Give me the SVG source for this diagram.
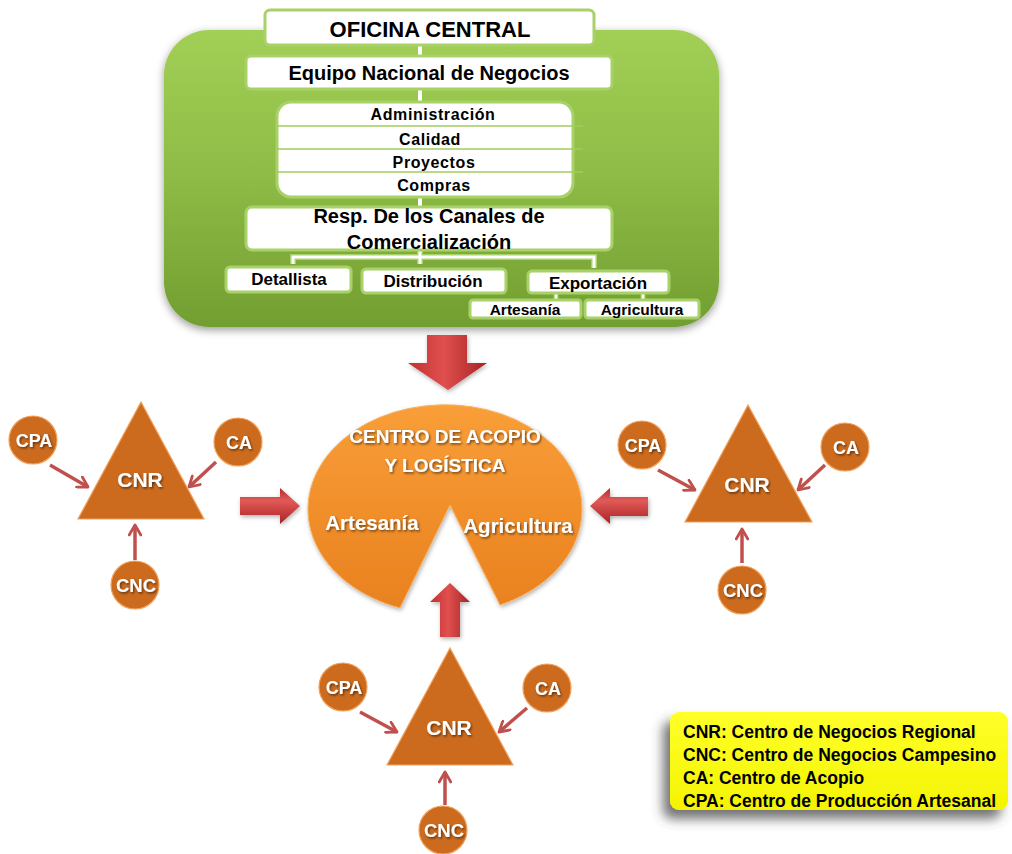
<svg xmlns="http://www.w3.org/2000/svg" width="1012" height="854" viewBox="0 0 1012 854">
<defs>
<linearGradient id="gGreen" x1="0" y1="0" x2="0" y2="1">
<stop offset="0" stop-color="#A2D056"/>
<stop offset="0.5" stop-color="#8DBB45"/>
<stop offset="1" stop-color="#729E31"/>
</linearGradient>
<linearGradient id="gOrange" x1="0" y1="0" x2="0" y2="1">
<stop offset="0" stop-color="#F99E38"/>
<stop offset="1" stop-color="#E9811F"/>
</linearGradient>
<linearGradient id="gRedV" x1="0" y1="0" x2="0" y2="1">
<stop offset="0" stop-color="#B8282B"/>
<stop offset="0.35" stop-color="#E25A58"/>
<stop offset="1" stop-color="#A82226"/>
</linearGradient>
<linearGradient id="gRedH" x1="0" y1="0" x2="1" y2="0">
<stop offset="0" stop-color="#C2302F"/>
<stop offset="0.45" stop-color="#E0504E"/>
<stop offset="1" stop-color="#A82226"/>
</linearGradient>
<linearGradient id="gYellow" x1="0" y1="0" x2="0" y2="1">
<stop offset="0" stop-color="#FFFF2A"/>
<stop offset="1" stop-color="#F4F400"/>
</linearGradient>
<filter id="shadow" x="-10%" y="-10%" width="120%" height="130%">
<feDropShadow dx="0" dy="3" stdDeviation="4" flood-color="#000" flood-opacity="0.4"/>
</filter>
<filter id="lshadow" x="-20%" y="-30%" width="140%" height="170%">
<feDropShadow dx="-7" dy="9" stdDeviation="6" flood-color="#444" flood-opacity="0.75"/>
</filter>
<filter id="ts" x="-10%" y="-20%" width="130%" height="150%">
<feDropShadow dx="1.2" dy="1.5" stdDeviation="0.8" flood-color="#000" flood-opacity="0.55"/>
</filter>
<filter id="soft" x="-20%" y="-20%" width="140%" height="140%">
<feDropShadow dx="1" dy="2" stdDeviation="2" flood-color="#000" flood-opacity="0.3"/>
</filter>
<marker id="ah" viewBox="0 0 12 12" refX="10" refY="6" markerWidth="14" markerHeight="14" markerUnits="userSpaceOnUse" orient="auto">
<path d="M1.5,1 L10,6 L1.5,11" fill="none" stroke="#C0504D" stroke-width="2.4" stroke-linecap="round" stroke-linejoin="round"/>
</marker>
</defs>
<style>
.box{fill:#fff;stroke:#A9D16A;stroke-width:3}
.t{font-family:"Liberation Sans",Arial,sans-serif;font-weight:bold;fill:#000;text-anchor:middle}
.w{font-family:"Liberation Sans",Arial,sans-serif;font-weight:bold;fill:#fff;text-anchor:middle}
.lg{font-family:"Liberation Sans",Arial,sans-serif;font-weight:bold;fill:#000;font-size:17.5px}
.div{stroke:#A0CC5E;stroke-width:1.5}
.cn{stroke:#fff;stroke-width:4;fill:none}
.org{fill:#CC6B1E;stroke:#F2A15C;stroke-width:1.2}
.sa{stroke:#C0504D;stroke-width:3.5;fill:none;marker-end:url(#ah)}
</style>

<g id="oficina-central">
<rect x="164" y="30" width="555" height="297" rx="45" fill="url(#gGreen)" filter="url(#shadow)"/>
</g>

<g id="connectors">
<line class="cn" x1="420" y1="45" x2="420" y2="56"/>
<line class="cn" x1="420" y1="89" x2="420" y2="102"/>
<line class="cn" x1="420" y1="197" x2="420" y2="207"/>
<path d="M293,264 V257 H594 V268 M420,250 V264" fill="none" stroke="#A9D16A" stroke-width="6"/>
<path d="M293,264 V257 H594 V268 M420,250 V264" fill="none" stroke="#fff" stroke-width="3"/>
<path d="M556,293 V301 M643,293 V301" fill="none" stroke="#A9D16A" stroke-width="5"/>
<path d="M556,293 V301 M643,293 V301" fill="none" stroke="#fff" stroke-width="2.5"/>
<line class="sa" x1="50" y1="465" x2="88" y2="487"/>
<line class="sa" x1="216" y1="462" x2="189" y2="487"/>
<line class="sa" x1="135" y1="560" x2="135" y2="525"/>
<line class="sa" x1="658" y1="470" x2="695" y2="490"/>
<line class="sa" x1="825" y1="465" x2="798" y2="490"/>
<line class="sa" x1="742" y1="563" x2="742" y2="529"/>
<line class="sa" x1="360" y1="712" x2="397" y2="732"/>
<line class="sa" x1="527" y1="708" x2="499" y2="732"/>
<line class="sa" x1="445" y1="805" x2="445" y2="772"/>
<path d="M427,335 H467 V363 H487 L448,390 L408,363 H427 Z" fill="url(#gRedH)" filter="url(#soft)"/>
<path d="M450,583 L470,602 H460 V637 H440 V602 H430 Z" fill="url(#gRedH)" filter="url(#soft)"/>
<path d="M240,497 H280 V488 L300,506 L280,524 V515 H240 Z" fill="url(#gRedV)" filter="url(#soft)"/>
<path d="M648,497 H610 V488 L590,506 L610,524 V516 H648 Z" fill="url(#gRedV)" filter="url(#soft)"/>
</g>

<g id="oficina">
<rect class="box" x="265" y="10" width="329" height="35" rx="5"/>
<text class="t" x="430" y="37" font-size="22">OFICINA CENTRAL</text>
</g>
<g id="equipo">
<rect class="box" x="246" y="56" width="366" height="33" rx="5"/>
<text class="t" x="429" y="80" font-size="20">Equipo Nacional de Negocios</text>
</g>
<g id="areas">
<rect class="box" x="277" y="102" width="296" height="95" rx="14" stroke="none"/>
<line class="div" x1="277" y1="126" x2="583" y2="126"/>
<line class="div" x1="277" y1="149" x2="583" y2="149"/>
<line class="div" x1="277" y1="172" x2="583" y2="172"/>
<text class="t" x="433" y="120" font-size="16" letter-spacing="0.6">Administración</text>
<text class="t" x="430" y="145" font-size="16" letter-spacing="0.6">Calidad</text>
<text class="t" x="434" y="168" font-size="16" letter-spacing="0.6">Proyectos</text>
<text class="t" x="434" y="191" font-size="16" letter-spacing="0.6">Compras</text>
</g>
<g id="resp">
<rect class="box" x="246" y="207" width="366" height="43" rx="6"/>
<text class="t" x="429" y="223" font-size="20">Resp. De los Canales de</text>
<text class="t" x="429" y="249" font-size="20">Comercialización</text>
</g>
<g id="detallista">
<rect class="box" x="226" y="267" width="125" height="25" rx="4"/>
<text class="t" x="289" y="285" font-size="17">Detallista</text>
</g>
<g id="distribucion">
<rect class="box" x="362" y="269" width="144" height="24" rx="4"/>
<text class="t" x="433" y="287" font-size="17">Distribución</text>
</g>
<g id="exportacion">
<rect class="box" x="528" y="271" width="141" height="22" rx="4"/>
<text class="t" x="598" y="289" font-size="17">Exportación</text>
</g>
<g id="exp-artesania">
<rect class="box" x="470" y="300" width="111" height="18" rx="3"/>
<text class="t" x="525" y="315" font-size="15.5">Artesanía</text>
</g>
<g id="exp-agricultura">
<rect class="box" x="585" y="300" width="114" height="18" rx="3"/>
<text class="t" x="642" y="315" font-size="15.5">Agricultura</text>
</g>

<g id="centro-acopio">
<path d="M400,608 L450,505 L500,605 A137 104.5 0 1 0 400,608 Z" fill="url(#gOrange)" stroke="#F7B060" stroke-width="1" filter="url(#soft)"/>
<g filter="url(#ts)">
<text class="w" x="445" y="443" font-size="19">CENTRO DE ACOPIO</text>
<text class="w" x="445" y="472" font-size="19">Y LOGÍSTICA</text>
<text class="w" x="372" y="530" font-size="20.5">Artesanía</text>
<text class="w" x="518" y="533" font-size="20.5">Agricultura</text>
</g>
</g>

<g id="cnr-left">
<polygon class="org" points="141,402 78,519 204,519"/>
<text class="w" x="140" y="487" font-size="21" filter="url(#ts)">CNR</text>
</g>
<g id="cpa-left"><circle class="org" cx="33" cy="440" r="24"/><text class="w" x="34" y="447" font-size="18" filter="url(#ts)">CPA</text></g>
<g id="ca-left"><circle class="org" cx="238" cy="442" r="24"/><text class="w" x="239" y="449" font-size="18" filter="url(#ts)">CA</text></g>
<g id="cnc-left"><circle class="org" cx="135" cy="585" r="24"/><text class="w" x="136" y="592" font-size="18.5" filter="url(#ts)">CNC</text></g>

<g id="cnr-right">
<polygon class="org" points="748,405 685,522 812,522"/>
<text class="w" x="747" y="492" font-size="21" filter="url(#ts)">CNR</text>
</g>
<g id="cpa-right"><circle class="org" cx="642" cy="445" r="24"/><text class="w" x="643" y="452" font-size="18" filter="url(#ts)">CPA</text></g>
<g id="ca-right"><circle class="org" cx="845" cy="447" r="24"/><text class="w" x="846" y="454" font-size="18" filter="url(#ts)">CA</text></g>
<g id="cnc-right"><circle class="org" cx="742" cy="590" r="24"/><text class="w" x="743" y="597" font-size="18.5" filter="url(#ts)">CNC</text></g>

<g id="cnr-bottom">
<polygon class="org" points="450,648 387,765 513,765"/>
<text class="w" x="449" y="735" font-size="21" filter="url(#ts)">CNR</text>
</g>
<g id="cpa-bottom"><circle class="org" cx="343" cy="687" r="24"/><text class="w" x="344" y="694" font-size="18" filter="url(#ts)">CPA</text></g>
<g id="ca-bottom"><circle class="org" cx="547" cy="688" r="24"/><text class="w" x="548" y="695" font-size="18" filter="url(#ts)">CA</text></g>
<g id="cnc-bottom"><circle class="org" cx="443" cy="830" r="24"/><text class="w" x="444" y="837" font-size="18.5" filter="url(#ts)">CNC</text></g>

<g id="legend">
<rect x="670" y="712" width="338" height="98" rx="9" fill="url(#gYellow)" filter="url(#lshadow)"/>
<text class="lg" x="683" y="738">CNR: Centro de Negocios Regional</text>
<text class="lg" x="683" y="761">CNC: Centro de Negocios Campesino</text>
<text class="lg" x="683" y="784">CA: Centro de Acopio</text>
<text class="lg" x="683" y="807">CPA: Centro de Producción Artesanal</text>
</g>
</svg>
